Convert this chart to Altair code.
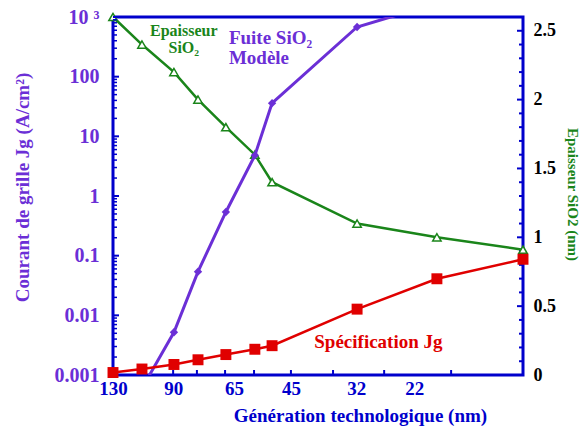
import altair as alt
import pandas as pd

# ---------------- data ----------------
# horizontal positions of the technology nodes (arbitrary units on a 0..15 axis)
node_x = [0, 1.06, 2.23, 3.11, 4.13, 5.19, 5.82, 8.93, 11.85, 15]
jg_spec = [0.0011, 0.00126, 0.0015, 0.0018, 0.0022, 0.0027, 0.0031, 0.0127, 0.041, 0.087]
tox_nm = [2.6, 2.4, 2.2, 2.0, 1.8, 1.6, 1.4, 1.1, 1.0, 0.91]
leak_x = [1.06, 2.23, 3.11, 4.13, 5.19, 5.82, 8.93, 11.85]
leak_model = [0.0006, 0.0052, 0.054, 0.54, 4.8, 36, 680, 1700]

x_label_pos = [0, 2.2, 4.43, 6.51, 8.9, 11.02]
x_labels = ["130", "90", "65", "45", "32", "22"]
x_tick_pos = [0, 1.06, 2.2, 3.07, 4.1, 5.16, 6.51, 8.05, 9.92, 12.37, 15]

left_major = [0.001, 0.01, 0.1, 1, 10, 100, 1000]
left_labels = ["0.001", "0.01", "0.1", "1", "10", "100", "10 ³"]
left_minor = [float(f"{k}e{e}") for e in range(-3, 3) for k in range(2, 10)]

right_major = [0, 0.5, 1, 1.5, 2, 2.5]
right_labels = ["0", "0.5", "1", "1.5", "2", "2.5"]
right_minor = [round(i * 0.1, 1) for i in range(1, 26) if i % 5]

# ---------------- style ----------------
BLUE = "#0000CC"
PURPLE = "#6B2FD6"
RED = "#E00000"
GREEN = "#1A851A"
FONT = "Liberation Serif"
W, H = 410, 358


def label_expr(values, labels):
    expr = "''"
    for v, l in reversed(list(zip(values, labels))):
        expr = f"datum.value == {v} ? '{l}' : ({expr})"
    return expr


x_scale = alt.Scale(domain=[0, 15], nice=False, zero=False)
left_scale = alt.Scale(type="log", domain=[0.001, 1000], nice=False)
right_scale = alt.Scale(domain=[0, 2.6], nice=False, zero=False)

x_axis = alt.Axis(
    orient="bottom", values=x_label_pos, labelExpr=label_expr(x_label_pos, x_labels),
    title="Génération technologique (nm)", domain=False, ticks=False, tickSize=0,
    grid=False, labelColor=BLUE, labelFontSize=19, labelPadding=4,
    labelFlush=False, labelOverlap=False, titleColor=BLUE, titleFontSize=19,
    titleX=247, titleY=40, titleBaseline="middle", titleAlign="center", titleAngle=0,
)
left_axis = alt.Axis(
    orient="left", values=left_major, labelExpr=label_expr(left_major, left_labels),
    title="Courant de grille Jg (A/cm²)", domain=False, ticks=False, tickSize=0,
    grid=False, labelColor=PURPLE, labelFontSize=20, labelPadding=14,
    labelOverlap=False, labelFlush=False, titleColor=PURPLE, titleFontSize=19,
    titleX=-91, titleY=170, titleAngle=270, titleBaseline="middle", titleAlign="center",
)
right_axis = alt.Axis(
    orient="right", values=right_major, labelExpr=label_expr(right_major, right_labels),
    title="Epaisseur SiO2 (nm)", domain=False, ticks=False, tickSize=0, grid=False,
    labelColor="black", labelFontSize=18, labelPadding=10, labelOverlap=False,
    labelFlush=False, titleColor=GREEN, titleFontSize=15, titleX=49, titleY=177,
    titleAngle=90, titleBaseline="middle", titleAlign="center",
)


def X():
    return alt.X("x:Q", scale=x_scale, axis=x_axis)


def XD(v):
    return alt.XDatum(v, scale=x_scale, axis=x_axis)


def YL(axis=None):
    return alt.Y("v:Q", scale=left_scale, axis=axis)


def YR(axis=None):
    return alt.Y("v:Q", scale=right_scale, axis=axis)


spec_df = pd.DataFrame({"x": node_x, "v": jg_spec})
tox_df = pd.DataFrame({"x": node_x, "v": tox_nm})
leak_df = pd.DataFrame({"x": leak_x, "v": leak_model})
xt_df = pd.DataFrame({"x": x_tick_pos})
lmaj_df = pd.DataFrame({"v": left_major})
lmin_df = pd.DataFrame({"v": left_minor})
rmaj_df = pd.DataFrame({"v": right_major})
rmin_df = pd.DataFrame({"v": right_minor})

# ---------------- right (oxide thickness) series ----------------
r_ticks_maj = alt.Chart(rmaj_df).mark_rule(color=BLUE, strokeWidth=2).encode(
    y=YR(), x=alt.value(W), x2=alt.value(W - 6))
r_ticks_min = alt.Chart(rmin_df).mark_rule(color=BLUE, strokeWidth=2).encode(
    y=YR(), x=alt.value(W), x2=alt.value(W - 4))
green_line = alt.Chart(tox_df).mark_line(color=GREEN, strokeWidth=2.5).encode(
    x=X(), y=YR(right_axis))
green_pts = alt.Chart(tox_df).mark_point(
    shape="triangle-up", filled=True, fill="white", stroke=GREEN, strokeWidth=1.5,
    size=70, opacity=1).encode(x=X(), y=YR())

ann_tox = alt.Chart().mark_text(
    text=["Epaisseur", "SiO₂"], font=FONT, fontWeight="bold", fontSize=16,
    color=GREEN, align="center", baseline="middle", lineHeight=17).encode(
    x=XD(2.59), y=alt.YDatum(2.498, scale=right_scale, axis=None))
ann_leak = alt.Chart().mark_text(
    text=["Fuite SiO₂", "Modèle"], font=FONT, fontWeight="bold", fontSize=19,
    color=PURPLE, align="left", baseline="middle", lineHeight=20).encode(
    x=XD(4.24), y=alt.YDatum(2.448, scale=right_scale, axis=None))
ann_spec = alt.Chart().mark_text(
    text="Spécification Jg", font=FONT, fontWeight="bold", fontSize=19,
    color=RED, align="center", baseline="middle").encode(
    x=XD(9.71), y=alt.YDatum(0.24, scale=right_scale, axis=None))

# ---------------- left (gate current) series ----------------
l_ticks_maj = alt.Chart(lmaj_df).mark_rule(color=BLUE, strokeWidth=2).encode(
    y=YL(), x=alt.value(0), x2=alt.value(6))
l_ticks_min = alt.Chart(lmin_df).mark_rule(color=BLUE, strokeWidth=1.5).encode(
    y=YL(), x=alt.value(0), x2=alt.value(4))
x_ticks = alt.Chart(xt_df).mark_rule(color=BLUE, strokeWidth=2).encode(
    x=X(), y=alt.value(H), y2=alt.value(H - 5))
purple_line = alt.Chart(leak_df).mark_line(color=PURPLE, strokeWidth=3, clip=True).encode(
    x=X(), y=YL(left_axis))
purple_pts = alt.Chart(leak_df).mark_point(
    shape="diamond", filled=True, color=PURPLE, size=70, opacity=1, clip=True).encode(
    x=X(), y=YL())
red_line = alt.Chart(spec_df).mark_line(color=RED, strokeWidth=2.5).encode(
    x=X(), y=YL())
red_pts = alt.Chart(spec_df).mark_square(color=RED, size=120, opacity=1).encode(
    x=X(), y=YL())

chart = (
    alt.layer(
        green_line, r_ticks_maj, r_ticks_min, green_pts,
        purple_line, l_ticks_maj, l_ticks_min, x_ticks, purple_pts,
        red_line, red_pts, ann_tox, ann_leak, ann_spec,
    )
    .resolve_scale(y="independent")
    .properties(
        width=W, height=H,
        padding={"left": 113, "top": 17, "right": 58, "bottom": 58},
        autosize=alt.AutoSizeParams(type="none"),
        background="white",
    )
    .configure_view(stroke=BLUE, strokeWidth=3)
    .configure_axis(labelFont=FONT, titleFont=FONT, labelFontWeight="bold",
                    titleFontWeight="bold")
)

chart.save("out.html", embed_options={"renderer": "svg", "actions": False})
